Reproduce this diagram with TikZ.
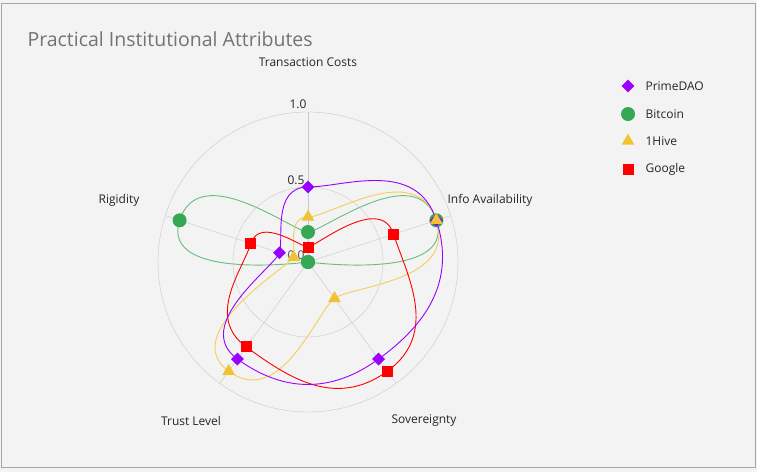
\documentclass[tikz,border=0pt]{standalone}
\usepackage{fontspec}
\setmainfont{Open Sans}
\usetikzlibrary{shapes.geometric}
\definecolor{pd}{HTML}{9900FF}
\definecolor{bt}{HTML}{34A853}
\definecolor{hv}{HTML}{F1C232}
\definecolor{gg}{HTML}{FF0000}
\definecolor{bg}{HTML}{F3F3F3}
\definecolor{grid}{HTML}{C8C8C8}
\begin{document}
\begin{tikzpicture}[x=1pt,y=-1pt,
  lbl/.style={font=\fontsize{12}{14}\selectfont,text=black!85},
  mpd/.style={diamond,fill=pd,inner sep=0pt,minimum size=13},
  mbt/.style={circle,fill=bt,inner sep=0pt,minimum size=14},
  mhv/.style={isosceles triangle,isosceles triangle apex angle=60,shape border rotate=90,fill=hv,inner sep=0pt,minimum height=11,minimum width=12},
  mgg/.style={rectangle,fill=gg,inner sep=0pt,minimum size=11},
  serie/.style={line width=0.9pt}]
\useasboundingbox (0,0) rectangle (757,472);
\fill[bg] (0,0) rectangle (757,472);
\draw[gray!70] (1,3) rectangle (755,467);
\node[anchor=west,font=\fontsize{19.5}{22}\selectfont,text=black!55] (title) at (24,39) {Practical Institutional Attributes};
% grid
\coordinate (c) at (308,262);
\draw[grid] (c) circle[radius=150];
\draw[grid] (c) circle[radius=75];
\foreach \a/\n in {90/a1,18/a2,-54/a3,-126/a4,162/a5}{
  \coordinate (\n) at ({308+150*cos(\a)},{262-150*sin(\a)});
  \draw[grid] (c) -- (\n);
}
\node[lbl,anchor=south] (t10) at (298,112) {1.0};
\node[lbl,anchor=south] (t05) at (296,188) {0.5};
\node[lbl,anchor=south,text=black!70] (t00) at (296,263) {0.0};
\node[lbl] (l1) at (308,62) {Transaction Costs};
\node[lbl,anchor=west] (l2) at (444,200) {Info Availability};
\node[lbl] (l3) at (424,421) {Sovereignty};
\node[lbl] (l4) at (191,421) {Trust Level};
\node[lbl] (l5) at (119,200) {Rigidity};
% data: points and Bezier controls (tangent perpendicular to the axis)
\def\K{0.48}
\newcommand{\mkpt}[4]{% name, index, value, angle
  \coordinate (#1-#2) at ({308+150*#3*cos(#4)},{262-150*#3*sin(#4)});
  \coordinate (#1-#2o) at ({308+150*#3*cos(#4)+\K*150*#3*sin(#4)},{262-150*#3*sin(#4)+\K*150*#3*cos(#4)});
  \coordinate (#1-#2i) at ({308+150*#3*cos(#4)-\K*150*#3*sin(#4)},{262-150*#3*sin(#4)-\K*150*#3*cos(#4)});}
\newcommand{\mkpts}[6]{%
  \mkpt{#1}{1}{#2}{90}\mkpt{#1}{2}{#3}{18}\mkpt{#1}{3}{#4}{-54}\mkpt{#1}{4}{#5}{-126}\mkpt{#1}{5}{#6}{162}}
\newcommand{\serie}[2]{%
  \draw[serie,#2] (#1-1) .. controls (#1-1o) and (#1-2i) .. (#1-2)
    .. controls (#1-2o) and (#1-3i) .. (#1-3)
    .. controls (#1-3o) and (#1-4i) .. (#1-4)
    .. controls (#1-4o) and (#1-5i) .. (#1-5)
    .. controls (#1-5o) and (#1-1i) .. (#1-1);}
\mkpts{pd}{0.5}{0.9}{0.8}{0.8}{0.2}
\mkpts{bt}{0.2}{0.9}{0.0}{0.0}{0.9}
\mkpts{hv}{0.3}{0.9}{0.3}{0.9}{0.1}
\mkpts{gg}{0.1}{0.6}{0.9}{0.7}{0.4}
\serie{bt}{bt!75}
\serie{hv}{hv!80}
\serie{gg}{gg}
\serie{pd}{pd}
\foreach \s in {bt,pd,gg,hv}{
  \foreach \i in {1,...,5}{ \node[m\s] (n\s\i) at (\s-\i) {}; }
}
% legend
\node[mpd] (k1) at (628,86) {};
\node[mbt] (k2) at (628,114) {};
\node[mhv] (k3) at (628,141) {};
\node[mgg] (k4) at (628,169) {};
\node[lbl,anchor=west] (k1t) at (642,86) {PrimeDAO};
\node[lbl,anchor=west] (k2t) at (642,114) {Bitcoin};
\node[lbl,anchor=west] (k3t) at (642,141) {1Hive};
\node[lbl,anchor=west] (k4t) at (642,169) {Google};
\end{tikzpicture}
\end{document}
